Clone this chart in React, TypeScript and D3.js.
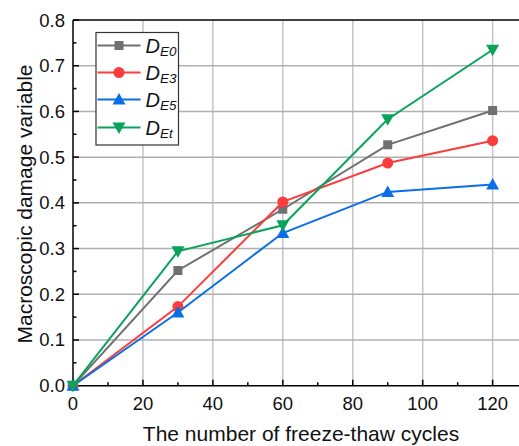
import React from "react";
import * as d3 from "d3";

const cycles = [0, 30, 60, 90, 120];
const seriesNames = ["E0", "E3", "E5", "Et"];
const DE0 = [0, 0.252, 0.386, 0.527, 0.602];
const DE3 = [0, 0.173, 0.402, 0.487, 0.536];
const DE5 = [0, 0.16, 0.334, 0.424, 0.44];
const DEt = [0, 0.294, 0.351, 0.583, 0.735];
const xTicks = [0, 20, 40, 60, 80, 100, 120];
const yTicks = [0, 0.1, 0.2, 0.3, 0.4, 0.5, 0.6, 0.7, 0.8];
const colors = ["#707070", "#fa3c3c", "#0a6ee6", "#0aa35c"];
const markers = ["square", "circle", "triangle", "triangleDown"];

const W = 519, H = 446;
const left = 73, top = 20, bottom = 385.7;
const x = d3.scaleLinear().domain([0, 128]).range([left, 520.6]);
const y = d3.scaleLinear().domain([0, 0.8]).range([bottom, top]);

function Marker({ type, cx, cy, color }: { type: string; cx: number; cy: number; color: string }) {
  if (type === "square") return <rect x={cx - 4.5} y={cy - 4.5} width={9} height={9} fill={color} />;
  if (type === "circle") return <circle cx={cx} cy={cy} r={5.5} fill={color} />;
  if (type === "triangle")
    return <path d={`M${cx},${cy - 6.5}L${cx + 6.5},${cy + 5}L${cx - 6.5},${cy + 5}Z`} fill={color} />;
  return <path d={`M${cx},${cy + 6.5}L${cx + 6.5},${cy - 5}L${cx - 6.5},${cy - 5}Z`} fill={color} />;
}

export default function App() {
  const data = [DE0, DE3, DE5, DEt];
  const line = d3
    .line<number>()
    .x((_, i) => x(cycles[i]))
    .y((d) => y(d));
  const xMinor = d3.range(10, 130, 20);
  const yMinor = d3.range(0.05, 0.8, 0.1);
  const font = "Arial, 'Liberation Sans', sans-serif";
  const legendY = [45.5, 72.5, 99.5, 127.5];
  return (
    <svg width={W} height={H} style={{ position: "absolute", left: 0, top: 0 }} fontFamily={font}>
      <rect width={W} height={H} fill="#fff" />
      {xTicks.slice(1).map((t) => (
        <line key={"gx" + t} x1={x(t)} x2={x(t)} y1={top} y2={bottom} stroke="#c4c4c4" strokeWidth={1.5} />
      ))}
      {yTicks.slice(1, -1).map((t) => (
        <line key={"gy" + t} x1={left} x2={W} y1={y(t)} y2={y(t)} stroke="#b0b0b0" strokeWidth={1.5} />
      ))}
      {/* axes */}
      <line x1={left} x2={W} y1={top} y2={top} stroke="#000" strokeWidth={1.5} />
      <line x1={left} x2={W} y1={bottom} y2={bottom} stroke="#000" strokeWidth={1.5} />
      <line x1={left} x2={left} y1={top} y2={bottom} stroke="#000" strokeWidth={1.5} />
      {xTicks.map((t) => (
        <line key={"xt" + t} x1={x(t)} x2={x(t)} y1={bottom} y2={bottom - 6} stroke="#000" strokeWidth={1.5} />
      ))}
      {xMinor.map((t) => (
        <line key={"xm" + t} x1={x(t)} x2={x(t)} y1={bottom} y2={bottom - 3.5} stroke="#000" strokeWidth={1.5} />
      ))}
      {yTicks.map((t) => (
        <line key={"yt" + t} x1={left} x2={left + 6} y1={y(t)} y2={y(t)} stroke="#000" strokeWidth={1.5} />
      ))}
      {yMinor.map((t) => (
        <line key={"ym" + t} x1={left} x2={left + 3.5} y1={y(t)} y2={y(t)} stroke="#000" strokeWidth={1.5} />
      ))}
      {xTicks.map((t) => (
        <text key={"xl" + t} x={x(t)} y={bottom + 24} textAnchor="middle" fontSize={18.5} fill="#111">
          {t}
        </text>
      ))}
      {yTicks.map((t) => (
        <text key={"yl" + t} x={left - 8} y={y(t) + 6.5} textAnchor="end" fontSize={18.5} fill="#111">
          {t.toFixed(1)}
        </text>
      ))}
      <text x={301} y={441} textAnchor="middle" fontSize={21} fill="#111">
        The number of freeze-thaw cycles
      </text>
      <text transform={`translate(32,204) rotate(-90)`} textAnchor="middle" fontSize={21} fill="#111">
        Macroscopic damage variable
      </text>
      {data.map((s, k) => (
        <g key={"s" + k}>
          <path d={line(s) || ""} fill="none" stroke={colors[k]} strokeWidth={2} />
          {s.map((v, i) => (
            <Marker key={i} type={markers[k]} cx={x(cycles[i])} cy={y(v)} color={colors[k]} />
          ))}
        </g>
      ))}
      {/* legend */}
      <rect x={96} y={32.5} width={82.5} height={112.5} fill="#fff" stroke="#333" strokeWidth={1.2} />
      {seriesNames.map((n, k) => (
        <g key={"lg" + n}>
          <line x1={97.5} x2={140.5} y1={legendY[k]} y2={legendY[k]} stroke={colors[k]} strokeWidth={2} />
          <Marker type={markers[k]} cx={119} cy={legendY[k]} color={colors[k]} />
          <text x={145.5} y={legendY[k] + 7.5} fontSize={20} fontStyle="italic" fill="#111">
            D
            <tspan fontSize={13.5} dy={3}>
              {n}
            </tspan>
          </text>
        </g>
      ))}
    </svg>
  );
}
